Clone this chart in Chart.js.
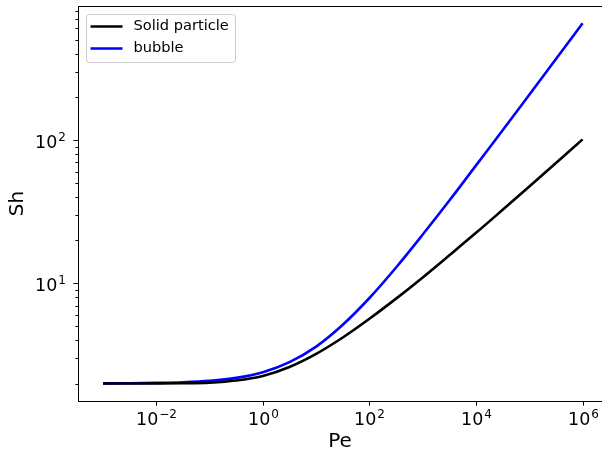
<!DOCTYPE html>
<html>
<head>
<meta charset="utf-8">
<script src="https://cdn.jsdelivr.net/npm/chart.js@4/dist/chart.umd.min.js"></script>
<style>
  html, body { margin: 0; padding: 0; background: #fff; }
  #wrap { width: 602px; height: 453px; }
</style>
</head>
<body>
<div id="wrap"><canvas id="shChart" width="602" height="453"></canvas></div>
<script>
// Peclet numbers (half decades) and Sherwood values
const peValues = [1e-3, 3.16e-3, 1e-2, 3.16e-2, 1e-1, 0.316, 1, 3.16, 10, 31.6,
                  100, 316, 1000, 3162, 1e4, 31623, 1e5, 316228, 1e6];
const solidSh = [2.00, 2.001, 2.003, 2.01, 2.03, 2.10, 2.26, 2.61, 3.22, 4.19,
                 5.66, 7.82, 11.0, 15.7, 22.5, 32.6, 47.4, 69.1, 101];
const bubbleSh = [2.004, 2.009, 2.02, 2.042, 2.09, 2.19, 2.40, 2.82, 3.62, 5.14,
                  7.9, 12.9, 21.9, 37.8, 66.5, 117, 207, 367, 652];

const seriesLabels = ['Solid particle', 'bubble'];
// major ticks and their exponents (labels are drawn as 10 with a raised exponent)
const xMajorTicks = [1e-2, 1, 1e2, 1e4, 1e6];
const xTickExponents = ['\u22122', '0', '2', '4', '6'];
const yMajorTicks = [10, 100];
const yTickExponents = ['1', '2'];
const yMinorTicks = [2, 3, 4, 5, 6, 7, 8, 9, 20, 30, 40, 50, 60, 70, 80, 90,
                     200, 300, 400, 500, 600, 700, 800];

const FONT = 'DejaVu Sans';
const BASE_FONT = '17.5px "' + FONT + '"';
const EXP_FONT = '12px "' + FONT + '"';

function toPoints(ys) {
    return peValues.map((pe, i) => ({ x: pe, y: ys[i] }));
}

function noEdgePadding(scale) {
    scale.paddingTop = 0;
    scale.paddingBottom = 0;
    scale.paddingLeft = 0;
    scale.paddingRight = 0;
}

// draws "10" with a raised exponent; anchor = 'center' or 'right'
function drawPowerLabel(ctx, exp, x, baseline, anchor) {
    ctx.font = BASE_FONT;
    const wBase = ctx.measureText('10').width;
    ctx.font = EXP_FONT;
    const wExp = ctx.measureText(exp).width;
    const total = wBase + wExp + 1;
    const left = anchor === 'right' ? x - total : x - total / 2;
    ctx.textAlign = 'left';
    ctx.textBaseline = 'alphabetic';
    ctx.font = BASE_FONT;
    ctx.fillText('10', left, baseline);
    ctx.font = EXP_FONT;
    ctx.fillText(exp, left + wBase + 1, baseline - 7);
}

// tick marks, tick labels and the axes frame, placed with the scales
const frameAndTicks = {
    id: 'frameAndTicks',
    afterDraw(chart) {
        const ctx = chart.ctx;
        const a = chart.chartArea;
        ctx.save();
        ctx.strokeStyle = '#000';
        ctx.fillStyle = '#000';
        ctx.lineWidth = 1;
        ctx.strokeRect(a.left + 0.5, a.top + 0.5, a.right - a.left, a.bottom - a.top);

        const xs = chart.scales.x;
        xs.ticks.forEach(t => {
            const px = Math.round(xs.getPixelForValue(t.value)) + 0.5;
            const len = t.major ? 4.6 : 2.6;
            ctx.beginPath();
            ctx.moveTo(px, a.bottom);
            ctx.lineTo(px, a.bottom + len);
            ctx.stroke();
            const i = xMajorTicks.indexOf(t.value);
            if (i >= 0) drawPowerLabel(ctx, xTickExponents[i], px, a.bottom + 24, 'center');
        });
        const ys = chart.scales.y;
        ys.ticks.forEach(t => {
            const py = Math.round(ys.getPixelForValue(t.value)) + 0.5;
            const len = t.major ? 4.6 : 2.6;
            ctx.beginPath();
            ctx.moveTo(a.left, py);
            ctx.lineTo(a.left - len, py);
            ctx.stroke();
            const i = yMajorTicks.indexOf(t.value);
            if (i >= 0) drawPowerLabel(ctx, yTickExponents[i], a.left - 12, py + 7.5, 'right');
        });
        ctx.restore();
    }
};

// matplotlib-like legend drawn inside the axes, upper left
const innerLegend = {
    id: 'innerLegend',
    afterDraw(chart) {
        const ctx = chart.ctx;
        const a = chart.chartArea;
        const x0 = a.left + 8.5, y0 = a.top + 8.5, w = 149, h = 48;
        ctx.save();
        ctx.fillStyle = 'rgba(255,255,255,0.8)';
        ctx.strokeStyle = '#cccccc';
        ctx.lineWidth = 1;
        ctx.beginPath();
        ctx.roundRect(x0, y0, w, h, 3);
        ctx.fill();
        ctx.stroke();
        ctx.font = '14.6px "' + FONT + '"';
        ctx.textBaseline = 'middle';
        chart.data.datasets.forEach((ds, i) => {
            const cy = y0 + 12 + i * 22;
            ctx.strokeStyle = ds.borderColor;
            ctx.lineWidth = 2.6;
            ctx.beginPath();
            ctx.moveTo(x0 + 4, cy);
            ctx.lineTo(x0 + 36, cy);
            ctx.stroke();
            ctx.fillStyle = '#000';
            ctx.fillText(ds.label, x0 + 47, cy);
        });
        ctx.restore();
    }
};

function createShChart() {
    const ctx = document.getElementById('shChart').getContext('2d');

    return new Chart(ctx, {
        type: 'line',
        data: {
            datasets: [{
                label: seriesLabels[0],
                data: toPoints(solidSh),
                borderColor: '#000000',
                borderWidth: 2.6,
                pointRadius: 0,
                cubicInterpolationMode: 'monotone',
                fill: false
            }, {
                label: seriesLabels[1],
                data: toPoints(bubbleSh),
                borderColor: '#0000ff',
                borderWidth: 2.6,
                pointRadius: 0,
                cubicInterpolationMode: 'monotone',
                fill: false
            }]
        },
        options: {
            responsive: false,
            animation: false,
            layout: { padding: { top: 6, right: 0, left: 0, bottom: 0 } },
            scales: {
                x: {
                    type: 'logarithmic',
                    bounds: 'data',   // keep min/max exactly, no rounding to ticks
                    min: Math.pow(10, -3.469),
                    max: Math.pow(10, 6.364),
                    afterBuildTicks: scale => {
                        scale.ticks = xMajorTicks.map(v => ({ value: v, major: true }));
                    },
                    afterFit: scale => { scale.height = 52; noEdgePadding(scale); },
                    grid: { display: false, drawTicks: false },
                    border: { display: false },
                    ticks: { display: false, autoSkip: false },
                    title: {
                        display: true,
                        text: 'Pe',
                        color: '#000',
                        font: { family: FONT, size: 20, lineHeight: 1.1 },
                        padding: { top: 0, bottom: 0 }
                    }
                },
                y: {
                    type: 'logarithmic',
                    bounds: 'data',
                    min: Math.pow(10, 0.179),
                    max: Math.pow(10, 2.935),
                    afterBuildTicks: scale => {
                        const majors = yMajorTicks.map(v => ({ value: v, major: true }));
                        const minors = yMinorTicks.map(v => ({ value: v, major: false }));
                        scale.ticks = majors.concat(minors).sort((p, q) => p.value - q.value);
                    },
                    afterFit: scale => { scale.width = 78; noEdgePadding(scale); },
                    grid: { display: false, drawTicks: false },
                    border: { display: false },
                    ticks: { display: false, autoSkip: false },
                    title: {
                        display: true,
                        text: 'Sh',
                        color: '#000',
                        font: { family: FONT, size: 20, lineHeight: 1.1 },
                        padding: { top: 6.5, bottom: 0 }
                    }
                }
            },
            plugins: {
                legend: { display: false },
                tooltip: { enabled: false }
            }
        },
        plugins: [frameAndTicks, innerLegend]
    });
}

createShChart();
</script>
</body>
</html>
